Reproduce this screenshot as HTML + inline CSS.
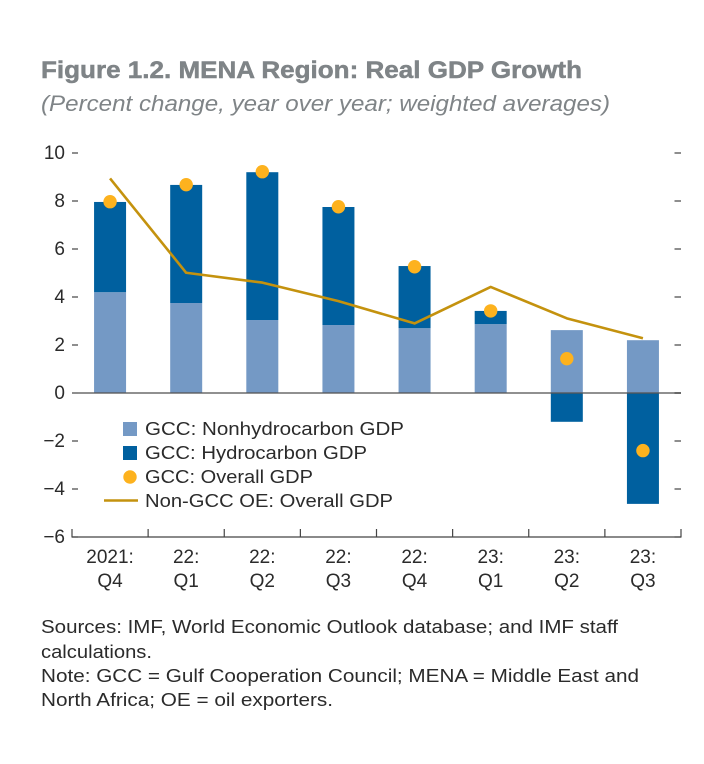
<!DOCTYPE html>
<html>
<head>
<meta charset="utf-8">
<style>
html,body{margin:0;padding:0;background:#fff;}
svg{display:block;}
text{font-family:"Liberation Sans",sans-serif;}
</style>
</head>
<body>
<svg id="chart" xmlns="http://www.w3.org/2000/svg" width="704" height="764" viewBox="0 0 704 764">
<text x="41" y="78" font-size="24.5" font-weight="bold" fill="#7f8487" stroke="#7f8487" stroke-width="0.5" textLength="541" lengthAdjust="spacingAndGlyphs">Figure 1.2. MENA Region: Real GDP Growth</text>
<text x="41" y="111" font-size="22" font-style="italic" fill="#7f8487" textLength="569" lengthAdjust="spacingAndGlyphs">(Percent change, year over year; weighted averages)</text>
<g id="marks"></g>
<g>
<rect x="123" y="422" width="14" height="14" fill="#7499c5"/>
<text x="145" y="435" font-size="18.5" fill="#2b2b2b" textLength="259" lengthAdjust="spacingAndGlyphs">GCC: Nonhydrocarbon GDP</text>
<rect x="123" y="446" width="14" height="14" fill="#00609f"/>
<text x="145" y="459" font-size="18.5" fill="#2b2b2b" textLength="222" lengthAdjust="spacingAndGlyphs">GCC: Hydrocarbon GDP</text>
<circle cx="130" cy="477" r="6.7" fill="#fdb21e"/>
<text x="145" y="483" font-size="18.5" fill="#2b2b2b" textLength="168" lengthAdjust="spacingAndGlyphs">GCC: Overall GDP</text>
<line x1="104" y1="500.5" x2="138" y2="500.5" stroke="#c4920e" stroke-width="2.4"/>
<text x="145" y="507" font-size="18.5" fill="#2b2b2b" textLength="248" lengthAdjust="spacingAndGlyphs">Non-GCC OE: Overall GDP</text>
</g>
<g font-size="18.5" fill="#2b2b2b">
<text x="41" y="633" textLength="577" lengthAdjust="spacingAndGlyphs">Sources: IMF, World Economic Outlook database; and IMF staff</text>
<text x="41" y="658" textLength="111" lengthAdjust="spacingAndGlyphs">calculations.</text>
<text x="41" y="682" textLength="598" lengthAdjust="spacingAndGlyphs">Note: GCC = Gulf Cooperation Council; MENA = Middle East and</text>
<text x="41" y="706" textLength="292" lengthAdjust="spacingAndGlyphs">North Africa; OE = oil exporters.</text>
</g>
</svg>
<script>
const categoriesTop = ['2021:', '22:', '22:', '22:', '22:', '23:', '23:', '23:'];
const categoriesBottom = ['Q4', 'Q1', 'Q2', 'Q3', 'Q4', 'Q1', 'Q2', 'Q3'];
const nonhydrocarbon = [4.2, 3.75, 3.04, 2.83, 2.7, 2.87, 2.62, 2.2];
const hydrocarbon = [3.76, 4.92, 6.16, 4.92, 2.59, 0.55, -1.2, -4.62];
const gccOverall = [7.97, 8.68, 9.22, 7.76, 5.26, 3.42, 1.43, -2.4];
const nonGccOverall = [8.94, 5.01, 4.6, 3.83, 2.9, 4.42, 3.11, 2.28];
const yTicks = [10, 8, 6, 4, 2, 0, -2, -4, -6];

const NS = 'http://www.w3.org/2000/svg';
const root = document.getElementById('marks');
const plotLeft = 72, plotRight = 681, bandCount = categoriesTop.length;
const band = (plotRight - plotLeft) / bandCount;
const barWidth = 32;
function xScale(i) { return plotLeft + band * (i + 0.5); }
function yScale(v) { return 393 - v * 24; }
function make(tag, attrs, text) {
  const el = document.createElementNS(NS, tag);
  for (const k in attrs) el.setAttribute(k, attrs[k]);
  if (text !== undefined) el.textContent = text;
  root.appendChild(el);
  return el;
}
function fmt(v) { return v < 0 ? '\u2212' + Math.abs(v) : String(v); }

categoriesTop.forEach(function (c, i) {
  const x = xScale(i) - barWidth / 2;
  const base = nonhydrocarbon[i];
  const bar1 = make('rect', { x: x, y: yScale(base), width: barWidth, height: yScale(0) - yScale(base), fill: '#7499c5' });
  
  
  const h = hydrocarbon[i];
  const from = h >= 0 ? base : 0;
  const to = from + h;
  const bar2 = make('rect', { x: x, y: yScale(Math.max(from, to)), width: barWidth, height: Math.abs(yScale(to) - yScale(from)), fill: '#00609f' });
  
  
});

const zero = make('line', { x1: 78, x2: plotRight, y1: yScale(0), y2: yScale(0), stroke: '#555', 'stroke-opacity': 0.75, 'stroke-width': 1.8 });



yTicks.forEach(function (t) {
  const y = yScale(t);
  const left = make('line', { x1: 72, x2: 78, y1: y, y2: y, stroke: '#444', 'stroke-width': 1.2 });
  
  
  const right = make('line', { x1: 674.5, x2: plotRight, y1: y, y2: y, stroke: '#444', 'stroke-width': 1.2 });
  
  
  const label = make('text', { x: 65, y: y + 6, 'text-anchor': 'end', 'font-size': 19, fill: '#2b2b2b' }, fmt(t));
  
  
});

const xAxis = make('line', { x1: plotLeft - 0.5, x2: plotRight + 0.5, y1: 537, y2: 537, stroke: '#444', 'stroke-width': 1.3 });


for (let i = 0; i <= bandCount; i++) {
  const tx = plotLeft + band * i;
  const tick = make('line', { x1: tx, x2: tx, y1: 529, y2: 537, stroke: '#444', 'stroke-width': 1.2 });
  
  
}

categoriesTop.forEach(function (c, i) {
  const top = make('text', { x: xScale(i), y: 563, 'text-anchor': 'middle', 'font-size': 19, fill: '#2b2b2b' }, c);
  
  
  const bottom = make('text', { x: xScale(i), y: 587, 'text-anchor': 'middle', 'font-size': 19, fill: '#2b2b2b' }, categoriesBottom[i]);
  
  
});

const linePoints = nonGccOverall.map(function (v, i) { return xScale(i) + ',' + yScale(v); }).join(' ');
const line = make('polyline', { points: linePoints, fill: 'none', stroke: '#c4920e', 'stroke-width': 2.6, 'stroke-linejoin': 'round' });



gccOverall.forEach(function (v, i) {
  const dot = make('circle', { cx: xScale(i), cy: yScale(v), r: 6.7, fill: '#fdb21e' });
  
  
});
</script>
</body>
</html>
